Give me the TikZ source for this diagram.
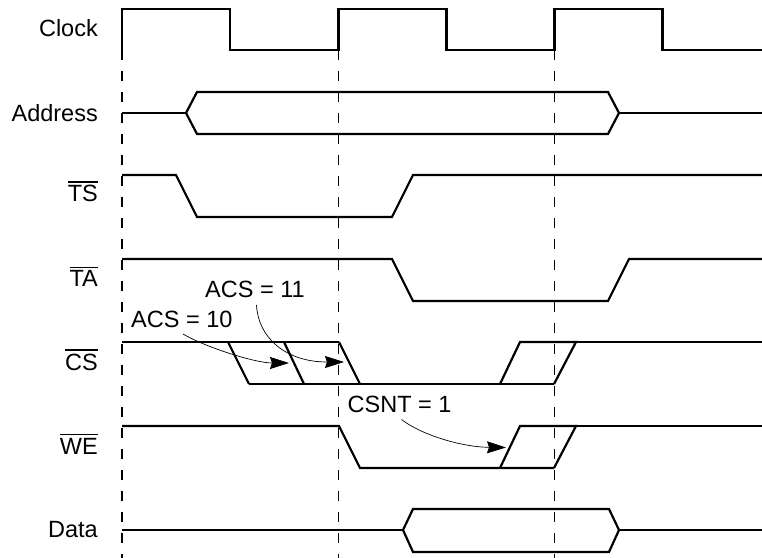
\documentclass[tikz,border=0pt]{standalone}
\usepackage{fontspec}
\setmainfont{Liberation Sans}
\usetikzlibrary{arrows.meta}
\newcommand\ovbar[1]{\vbox{\hrule height 1.5bp\kern 2.6bp\hbox{#1}}}
\begin{document}
\begin{tikzpicture}[x=1bp,y=-1bp,
  sig/.style={line width=2.2bp, line join=miter},
  clk/.style={line width=2.8bp, line join=miter},
  gridln/.style={line width=1.2bp, dash pattern=on 10bp off 11bp},
  lbl/.style={font=\fontsize{23.5bp}{28bp}\selectfont, inner sep=0pt},
  note/.style={line width=0.7bp, -{Stealth[length=19bp,width=12bp,inset=2bp]}}]
\useasboundingbox (0,0) rectangle (762,558);
% dashed reference lines
\draw[gridln] (122,50) -- (122,558);
\draw[gridln] (338.5,50) -- (338.5,558);
\draw[gridln] (554.5,50) -- (554.5,558);
% labels
\node[lbl, anchor=base east] (lclk) at (98,37) {Clock};
\node[lbl, anchor=base east] (ladr) at (98,122) {Address};
\node[lbl, anchor=base east] (lts) at (98,202) {\ovbar{TS}};
\node[lbl, anchor=base east] (lta) at (98,287) {\ovbar{TA}};
\node[lbl, anchor=base east] (lcs) at (98,370) {\ovbar{CS}};
\node[lbl, anchor=base east] (lwe) at (98,454) {\ovbar{WE}};
\node[lbl, anchor=base east] (ldat) at (98,537) {Data};
% clock
\draw[clk] (122,50) -- (122,9) -- (230,9) -- (230,50) -- (338.5,50) -- (338.5,9) -- (446.5,9) -- (446.5,50) -- (554.5,50) -- (554.5,9) -- (662.5,9) -- (662.5,50) -- (762,50);
% address
\draw[sig] (122,113) -- (186,113);
\draw[sig] (186,113) -- (197,92) -- (608,92) -- (619,113) -- (608,134) -- (197,134) -- cycle;
\draw[sig] (619,113) -- (762,113);
% TS
\draw[sig] (122,175) -- (176,175) -- (197,217) -- (392,217) -- (413,175) -- (762,175);
% TA
\draw[sig] (122,259) -- (392,259) -- (413,301) -- (608,301) -- (629,259) -- (762,259);
% CS
\draw[sig] (122,342) -- (339,342);
\draw[sig] (228,342) -- (249,384);
\draw[sig] (284,342) -- (304,384);
\draw[sig] (339,342) -- (360,384);
\draw[sig] (249,384) -- (554,384);
\draw[sig] (500,384) -- (520,342) -- (576,342) -- (554,384);
\draw[sig] (576,342) -- (762,342);
% WE
\draw[sig] (122,426) -- (339,426) -- (360,468) -- (554,468);
\draw[sig] (500,468) -- (520,426) -- (576,426) -- (554,468);
\draw[sig] (576,426) -- (762,426);
% Data
\draw[sig] (122,530) -- (403,530);
\draw[sig] (403,530) -- (413,509) -- (609,509) -- (619,530) -- (609,552) -- (413,552) -- cycle;
\draw[sig] (619,530) -- (762,530);
% annotations
\node[lbl, anchor=base west] (acs11) at (205,298) {ACS = 11};
\node[lbl, anchor=base west] (acs10) at (131,327) {ACS = 10};
\node[lbl, anchor=base west] (csnt) at (347.5,412) {CSNT = 1};
\coordinate (a10s) at (183,334);
\coordinate (a10e) at (289,363);
\coordinate (a11s) at (256.5,305);
\coordinate (a11e) at (344,362);
\coordinate (cns) at (401.5,419.5);
\coordinate (cne) at (506,447.5);
\draw[note] (a10s) .. controls (205,347) and (255,363) .. (a10e);
\draw[note] (a11s) .. controls (258,337) and (285,362) .. (a11e);
\draw[note] (cns) .. controls (420,434) and (460,447) .. (cne);
\end{tikzpicture}
\end{document}
